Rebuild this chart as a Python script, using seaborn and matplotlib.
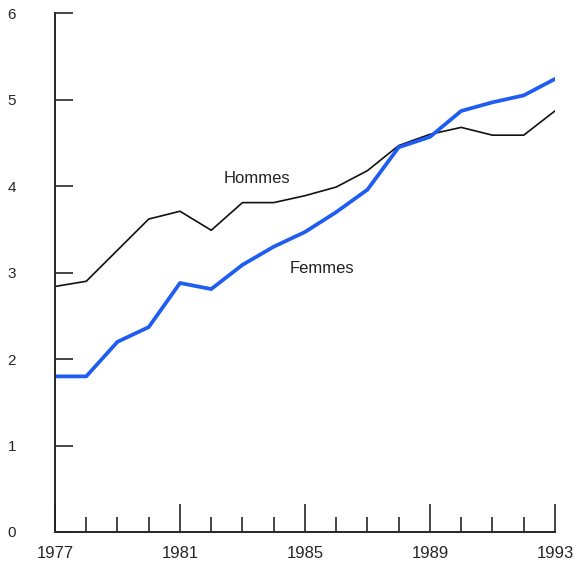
import numpy as np
import pandas as pd
import matplotlib
matplotlib.use("Agg")
import matplotlib.pyplot as plt
import seaborn as sns

# -- Data ------------------------------------------------------------------
years = list(range(1977, 1994))
hommes = [2.84, 2.90, 3.26, 3.62, 3.71, 3.49, 3.81, 3.81, 3.89, 3.99,
          4.18, 4.47, 4.60, 4.68, 4.59, 4.59, 4.87]
femmes = [1.80, 1.80, 2.20, 2.37, 2.88, 2.81, 3.09, 3.30, 3.47, 3.70,
          3.96, 4.45, 4.57, 4.87, 4.97, 5.05, 5.24]
year_labels = ["1977", "1981", "1985", "1989", "1993"]
y_ticks = [0, 1, 2, 3, 4, 5, 6]

df = pd.DataFrame({"annee": years, "Hommes": hommes, "Femmes": femmes})

sns.set_style("ticks")
plt.rcParams["font.family"] = ["Liberation Sans", "DejaVu Sans"]

fig = plt.figure(figsize=(5.82, 5.77), dpi=100)
ax = fig.add_axes([0.0945, 0.078, 0.859, 0.899])

sns.lineplot(data=df, x="annee", y="Hommes", color="#111111", linewidth=1.2, ax=ax)
sns.lineplot(data=df, x="annee", y="Femmes", color="#1f5cf2", linewidth=2.7, ax=ax)

ax.text(1983.45, 4.09, "Hommes", ha="center", va="center", fontsize=12, color="#222222")
ax.text(1985.55, 3.05, "Femmes", ha="center", va="center", fontsize=12, color="#222222")

ax.set_xlim(1977, 1993)
ax.set_ylim(0, 6)
ax.set_yticks(y_ticks)
ax.set_yticklabels([str(v) for v in y_ticks])
ax.set_xticks([int(y) for y in year_labels])
ax.set_xticklabels(year_labels)
ax.set_xticks(years, minor=True)

ax.tick_params(axis="y", direction="in", length=13, width=1.2, pad=28, labelsize=11)
ax.tick_params(axis="x", which="major", direction="in", length=20, width=1.2, pad=10, labelsize=12)
ax.tick_params(axis="x", which="minor", direction="in", length=11, width=1.2)

for side in ["top", "right"]:
    ax.spines[side].set_visible(False)
for side in ["left", "bottom"]:
    ax.spines[side].set_linewidth(1.4)

ax.set_xlabel("")
ax.set_ylabel("")

plt.savefig("out.png", dpi=100)
plt.close()
